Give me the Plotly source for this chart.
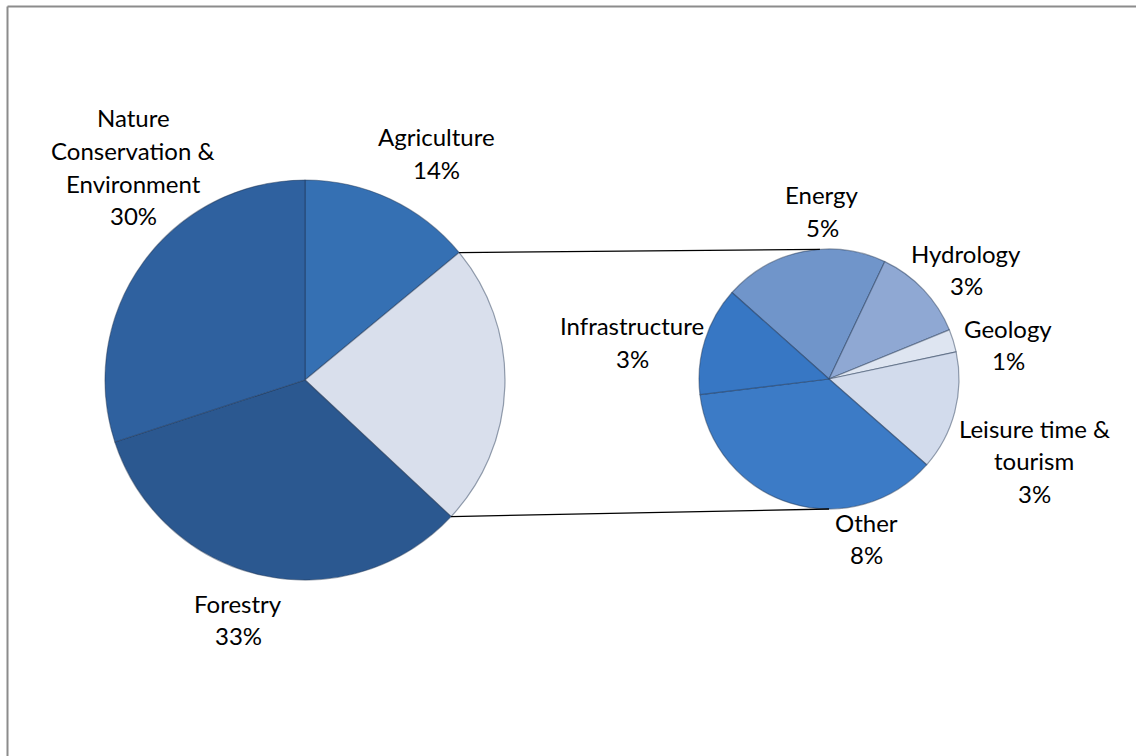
import math
import plotly.graph_objects as go

# ---------------- data ----------------
main_labels = ["Agriculture", "Other uses", "Forestry", "Nature Conservation & Environment"]
main_values = [14.0, None, 33.0, 30.0]  # second slice = sum of the secondary pie
sub_labels = ["Energy", "Hydrology", "Geology", "Leisure time & tourism", "Other", "Infrastructure"]
sub_values = [4.7, 2.7, 0.65, 3.4, 8.4, 3.1]

main_colors = ["#3570B3", "#D9DFEC", "#2B5890", "#2F619F"]
sub_colors = ["#7095CA", "#8FA8D3", "#DEE5F1", "#D2DBEC", "#3C7BC6", "#3777C4"]

main_values[1] = sum(sub_values)
grand_total = sum(main_values)

def pct(v):
    return f"{round(v / grand_total * 100)}%"

# ---------------- geometry ----------------
W, H = 1136, 756
c1, r1 = (305, 380), 200
c2, r2 = (829, 379), 130
sub_rotation = -48.3

def dom(c, r):
    return dict(x=[(c[0] - r) / W, (c[0] + r) / W], y=[1 - (c[1] + r) / H, 1 - (c[1] - r) / H])

fig = go.Figure()
fig.add_trace(go.Pie(
    labels=main_labels, values=main_values, sort=False, direction="clockwise", rotation=0,
    marker=dict(colors=main_colors, line=dict(color="rgba(30,50,80,0.45)", width=1.2)),
    textinfo="none", domain=dom(c1, r1), showlegend=False, name="main"))
fig.add_trace(go.Pie(
    labels=sub_labels, values=sub_values, sort=False, direction="clockwise", rotation=sub_rotation,
    marker=dict(colors=sub_colors, line=dict(color="rgba(30,50,80,0.45)", width=1.2)),
    textinfo="none", domain=dom(c2, r2), showlegend=False, name="sub"))

# connector lines from the "Other uses" slice edges to the secondary pie
a_start = 360 * main_values[0] / grand_total
a_end = 360 * (main_values[0] + main_values[1]) / grand_total
def pt(c, r, a):
    return (c[0] + r * math.sin(math.radians(a)), c[1] - r * math.cos(math.radians(a)))
for a, b in [(pt(c1, r1, a_start), pt(c2, r2, -4)), (pt(c1, r1, a_end), pt(c2, r2, 180))]:
    fig.add_shape(type="line", xref="paper", yref="paper",
                  x0=a[0] / W, y0=1 - a[1] / H, x1=b[0] / W, y1=1 - b[1] / H,
                  line=dict(color="black", width=1.3))

# frame (top and left edges visible)
fig.add_shape(type="line", xref="paper", yref="paper", x0=7.5 / W, y0=0, x1=7.5 / W, y1=1 - 6.5 / H,
              line=dict(color="#8C8C8C", width=2))
fig.add_shape(type="line", xref="paper", yref="paper", x0=7.5 / W, y0=1 - 6.5 / H, x1=1, y1=1 - 6.5 / H,
              line=dict(color="#8C8C8C", width=2))

# labels: (lines, center x, first line center y)
main_text = [
    (["Agriculture"], 436, 137),
    (None, None, None),
    (["Forestry"], 238, 603),
    (["Nature", "Conservation &", "Environment"], 133, 118),
]
sub_text = [
    (["Energy"], 822, 195),
    (["Hydrology"], 966, 253),
    (["Geology"], 1008, 328),
    (["Leisure time &", "tourism"], 1034, 428),
    (["Other"], 866, 522),
    (["Infrastructure"], 632, 326),
]
FONT = dict(family="Lato, Carlito, Calibri, sans-serif", size=24, color="black")
LS = 32.5

def add_label(lines, x, y, v):
    for i, t in enumerate(lines + [pct(v)]):
        fig.add_annotation(x=x / W, y=1 - (y + i * LS) / H, xref="paper", yref="paper",
                           text=t, showarrow=False, font=FONT, xanchor="center", yanchor="middle")

for (lines, x, y), v in zip(main_text, main_values):
    if lines:
        add_label(lines, x, y, v)
for (lines, x, y), v in zip(sub_text, sub_values):
    add_label(lines, x, y, v)

fig.update_layout(width=W, height=H, margin=dict(l=0, r=0, t=0, b=0),
                  paper_bgcolor="white", plot_bgcolor="white")
fig.write_html("out.html")
